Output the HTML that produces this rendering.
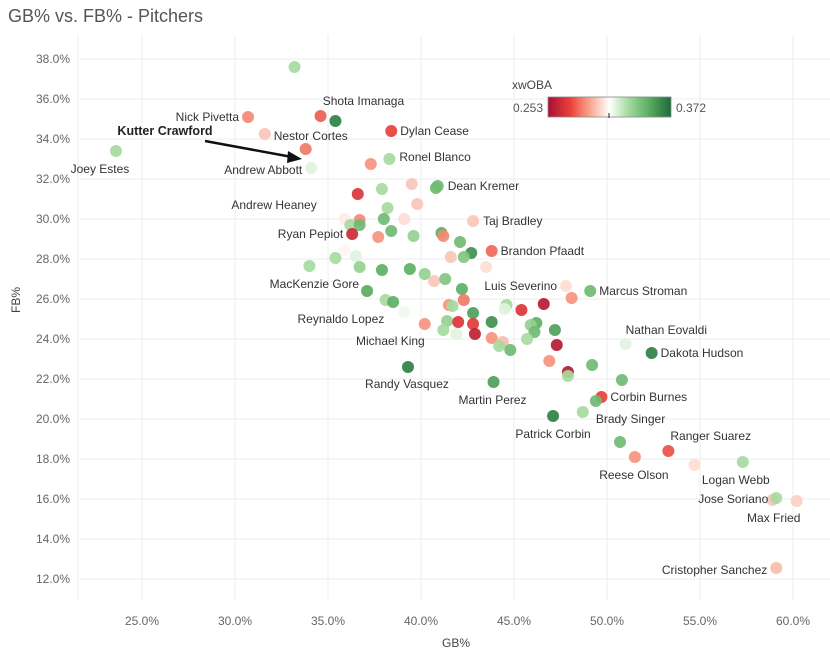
<!DOCTYPE html>
<html><head><meta charset="utf-8">
<style>
body{margin:0;background:#fff;font-family:"Liberation Sans",sans-serif;}
svg text{font-family:"Liberation Sans",sans-serif;}
</style></head>
<body>
<svg id="chart" width="830" height="659" xmlns="http://www.w3.org/2000/svg">
<text x="8" y="22" font-size="18" fill="#555">GB% vs. FB% - Pitchers</text>
<g id="grid"></g>
<g id="axes"></g>
<g id="points"></g>
<g id="labels"></g>
<text transform="translate(20,300) rotate(-90)" font-size="12" fill="#444" text-anchor="middle">FB%</text>
<text x="456" y="647" font-size="12" fill="#444" text-anchor="middle">GB%</text>
<g>
<defs><linearGradient id="lg" x1="0" x2="1">
<stop offset="0" stop-color="#ab0f32"/><stop offset="0.18" stop-color="#e8403a"/><stop offset="0.32" stop-color="#f89a82"/><stop offset="0.5" stop-color="#ffffff"/><stop offset="0.65" stop-color="#a6dba0"/><stop offset="0.82" stop-color="#5aae61"/><stop offset="1" stop-color="#1b6b37"/>
</linearGradient></defs>
<text x="532" y="89" font-size="12" fill="#444" text-anchor="middle">xwOBA</text>
<rect x="548" y="97" width="123" height="20" fill="url(#lg)" stroke="#888" stroke-width="0.8"/>
<line x1="609" y1="113" x2="609" y2="118" stroke="#222"/>
<text x="543" y="112" font-size="12" fill="#555" text-anchor="end">0.253</text>
<text x="676" y="112" font-size="12" fill="#555">0.372</text>
</g>
<g>
<text x="165" y="135" font-size="12.5" font-weight="bold" fill="#222" text-anchor="middle">Kutter Crawford</text>
<line x1="205" y1="141" x2="292" y2="157" stroke="#111" stroke-width="2.5"/>
<polygon points="302,159 288,151 287,163" fill="#111"/>
</g>
</svg>
<script>
const xTicks=[25,30,35,40,45,50,55,60];
const yTicks=[12,14,16,18,20,22,24,26,28,30,32,34,36,38];
const gb=[33.2,30.7,34.6,35.4,31.6,38.4,23.6,33.8,34.1,37.3,38.3,39.5,36.6,37.9,40.9,39.8,38.2,35.9,36.7,36.2,36.7,38.0,39.1,42.8,36.3,37.7,38.4,39.6,41.1,41.2,42.1,42.7,43.8,41.6,42.3,35.9,35.4,36.5,34.0,36.7,37.9,39.4,40.2,40.7,41.3,43.5,37.1,38.1,38.5,39.1,42.2,41.5,41.7,42.3,42.8,40.2,41.4,42.0,42.8,43.8,41.2,41.9,42.9,43.8,44.4,44.2,44.8,44.6,44.5,45.4,46.6,46.2,45.9,46.1,45.7,47.2,47.3,46.9,47.8,48.1,49.1,51.0,52.4,47.9,47.9,49.2,50.8,39.3,43.9,49.7,49.4,48.7,47.1,50.7,51.5,53.3,54.7,57.3,58.9,59.1,60.2,59.1,40.8];
const fb=[37.6,35.1,35.15,34.9,34.25,34.4,33.4,33.5,32.55,32.75,33.0,31.75,31.25,31.5,31.65,30.75,30.55,30.0,29.95,29.7,29.7,30.0,30.0,29.9,29.25,29.1,29.4,29.15,29.3,29.15,28.85,28.3,28.4,28.1,28.1,28.45,28.05,28.15,27.65,27.6,27.45,27.5,27.25,26.9,27.0,27.6,26.4,25.95,25.85,25.35,26.5,25.7,25.65,25.95,25.3,24.75,24.9,24.85,24.75,24.85,24.45,24.25,24.25,24.05,23.85,23.65,23.45,25.7,25.5,25.45,25.75,24.8,24.7,24.35,24.0,24.45,23.7,22.9,26.65,26.05,26.4,23.75,23.3,22.35,22.15,22.7,21.95,22.6,21.85,21.1,20.9,20.35,20.15,18.85,18.1,18.4,17.7,17.85,15.95,16.05,15.9,12.55,31.55];
const xwoba=[0.33,0.288,0.28,0.365,0.30,0.275,0.33,0.285,0.318,0.29,0.33,0.30,0.27,0.33,0.345,0.30,0.33,0.308,0.288,0.33,0.345,0.345,0.305,0.30,0.265,0.29,0.345,0.335,0.35,0.288,0.345,0.36,0.282,0.30,0.34,0.31,0.33,0.318,0.33,0.335,0.35,0.35,0.335,0.30,0.34,0.305,0.352,0.33,0.35,0.315,0.35,0.29,0.33,0.285,0.355,0.29,0.335,0.27,0.272,0.36,0.33,0.318,0.26,0.29,0.298,0.33,0.345,0.33,0.318,0.27,0.258,0.35,0.335,0.345,0.33,0.355,0.258,0.29,0.305,0.29,0.345,0.318,0.365,0.258,0.33,0.345,0.345,0.365,0.355,0.275,0.345,0.33,0.365,0.345,0.29,0.278,0.305,0.33,0.30,0.33,0.302,0.298,0.345];
const names=["","Nick Pivetta","","Shota Imanaga","Nestor Cortes","Dylan Cease","Joey Estes","","Andrew Abbott","","Ronel Blanco","","","","Dean Kremer","","","Andrew Heaney","","","","","","Taj Bradley","Ryan Pepiot","","","","","","","","Brandon Pfaadt","","","","","","","","","","","","","","MacKenzie Gore","","","Reynaldo Lopez","","","","","","Michael King","","","","","","","","","","","","","","","","","","","","","","","Luis Severino","","Marcus Stroman","Nathan Eovaldi","Dakota Hudson","","","","","Randy Vasquez","Martin Perez","Corbin Burnes","Brady Singer","","Patrick Corbin","","Reese Olson","Ranger Suarez","","Logan Webb","","Jose Soriano","Max Fried","Cristopher Sanchez",""];
const labelPos={"Nick Pivetta":[-9,4,"end"],"Shota Imanaga":[28,-16,"middle"],"Nestor Cortes":[9,6,"start"],"Dylan Cease":[9,4,"start"],"Joey Estes":[-16,22,"middle"],"Andrew Abbott":[-9,6,"end"],"Ronel Blanco":[10,2,"start"],"Dean Kremer":[10,4,"start"],"Andrew Heaney":[-28,-10,"end"],"Taj Bradley":[10,4,"start"],"Ryan Pepiot":[-9,4,"end"],"Brandon Pfaadt":[9,4,"start"],"MacKenzie Gore":[-8,-3,"end"],"Reynaldo Lopez":[-20,11,"end"],"Michael King":[0,21,"end"],"Luis Severino":[-9,4,"end"],"Marcus Stroman":[9,4,"start"],"Nathan Eovaldi":[0,-10,"start"],"Dakota Hudson":[9,4,"start"],"Randy Vasquez":[-1,21,"middle"],"Martin Perez":[-1,22,"middle"],"Corbin Burnes":[9,4,"start"],"Brady Singer":[0,22,"start"],"Patrick Corbin":[0,22,"middle"],"Reese Olson":[-1,22,"middle"],"Ranger Suarez":[2,-11,"start"],"Logan Webb":[-7,22,"middle"],"Jose Soriano":[-8,5,"end"],"Max Fried":[-23,21,"middle"],"Cristopher Sanchez":[-9,6,"end"]};
const NS="http://www.w3.org/2000/svg";
const X0=78,X1=830,Y0=35,Y1=600;
function xs(v){return 142+(v-25)*18.6;}
function ys(v){return 59+(38-v)*20;}
const stops=[[0.253,[171,15,50]],[0.275,[232,64,58]],[0.291,[248,154,130]],[0.312,[255,255,255]],[0.33,[166,219,160]],[0.351,[90,174,97]],[0.372,[27,107,55]]];
function col(v){
 v=Math.max(0.253,Math.min(0.372,v));
 for(let i=0;i<stops.length-1;i++){const a=stops[i],b=stops[i+1];
  if(v<=b[0]){const t=(v-a[0])/(b[0]-a[0]);const c=a[1].map((x,k)=>Math.round(x+(b[1][k]-x)*t));return `rgb(${c})`;}}
 return "rgb(27,107,55)";
}
function mk(tag,attrs,parent){const e=document.createElementNS(NS,tag);for(const k in attrs)e.setAttribute(k,attrs[k]);parent.appendChild(e);return e;}
const grid=document.getElementById('grid'),axes=document.getElementById('axes');
xTicks.forEach(t=>{
 const l=mk('line',{x1:xs(t),x2:xs(t),y1:Y0,y2:Y1,stroke:'#ececec'},grid);
 
 
 const tx=mk('text',{x:xs(t),y:625,'font-size':12,fill:'#666','text-anchor':'middle'},axes);
 tx.textContent=t.toFixed(1)+'%';
 
 
});
yTicks.forEach(t=>{
 const l=mk('line',{x1:X0,x2:X1,y1:ys(t),y2:ys(t),stroke:'#ececec'},grid);
 
 
 const tx=mk('text',{x:70,y:ys(t)+4,'font-size':12,fill:'#666','text-anchor':'end'},axes);
 tx.textContent=t.toFixed(1)+'%';
 
 
});
const lx=mk('line',{x1:X0,x2:X0,y1:Y0,y2:Y1,stroke:'#ececec'},grid);


const pg=document.getElementById('points'),lg=document.getElementById('labels');
gb.forEach((g,i)=>{
 const c=mk('circle',{cx:xs(g),cy:ys(fb[i]),r:6,fill:col(xwoba[i]),'fill-opacity':0.92},pg);
 
 
 const n=names[i];
 if(n&&labelPos[n]){const p=labelPos[n];
  const t=mk('text',{x:xs(g)+p[0],y:ys(fb[i])+p[1],'font-size':12,fill:'#333','text-anchor':p[2]},lg);
  t.textContent=n;
  
  
 }
});
</script>
</body></html>
